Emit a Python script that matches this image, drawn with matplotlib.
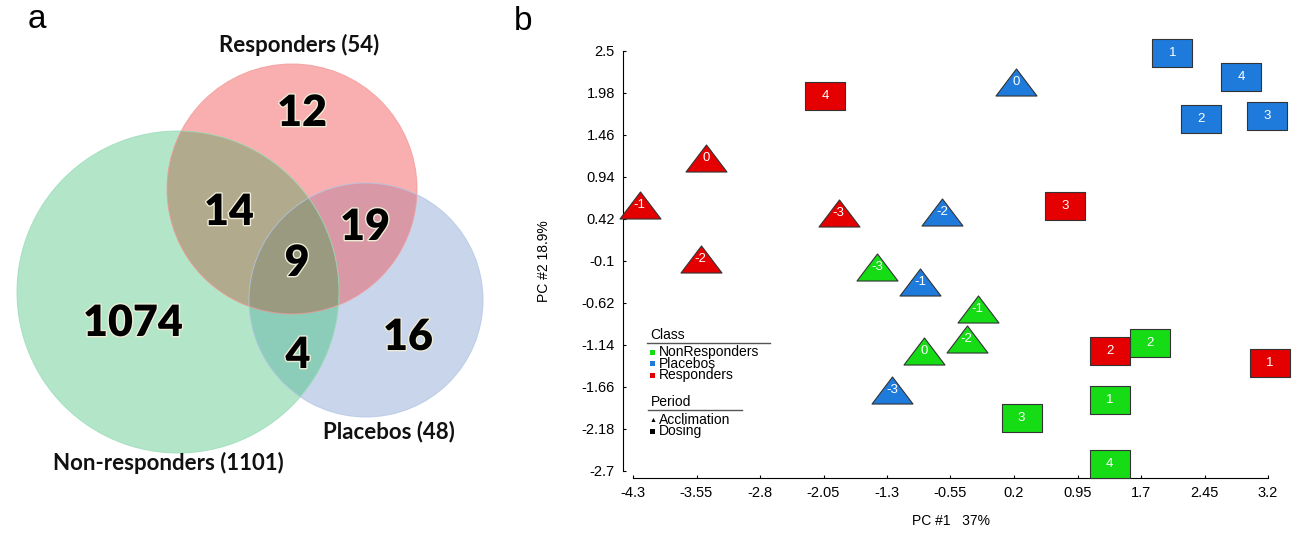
import matplotlib
matplotlib.use("Agg")
import matplotlib.pyplot as plt
import numpy as np
from matplotlib.patches import Circle, Polygon, Rectangle
from matplotlib.path import Path
import matplotlib.patheffects as pe

plt.rcParams['axes.unicode_minus'] = False
plt.rcParams['font.family'] = ['Liberation Sans', 'DejaVu Sans']

# --- panel a: Venn counts ---
set_names = ['Non-responders', 'Responders', 'Placebos']
set_sizes = [1101, 54, 48]
# regions: only N, only R, only P, N&R, R&P, N&P, all three
region_counts = [1074, 12, 16, 14, 19, 4, 9]

# --- panel b: PCA scores ---
acclim_weeks = [-3, -2, -1, 0]
dosing_weeks = [1, 2, 3, 4]

nonresp_acc_x = [-1.42, -0.36, -0.23, -0.86]
nonresp_acc_y = [-0.17, -1.07, -0.70, -1.21]
nonresp_dos_x = [1.33, 1.81, 0.29, 1.33]
nonresp_dos_y = [-1.82, -1.11, -2.05, -2.61]

placebo_acc_x = [-1.24, -0.65, -0.91, 0.22]
placebo_acc_y = [-1.70, 0.51, -0.36, 2.12]
placebo_dos_x = [2.07, 2.41, 3.19, 2.88]
placebo_dos_y = [2.48, 1.66, 1.70, 2.18]

resp_acc_x = [-1.87, -3.50, -4.22, -3.44]
resp_acc_y = [0.49, -0.08, 0.59, 1.18]
resp_dos_x = [3.22, 1.33, 0.80, -2.03]
resp_dos_y = [-1.36, -1.22, 0.58, 1.94]

x_ticks = [-4.3, -3.55, -2.8, -2.05, -1.3, -0.55, 0.2, 0.95, 1.7, 2.45, 3.2]
y_ticks = [2.5, 1.98, 1.46, 0.94, 0.42, -0.1, -0.62, -1.14, -1.66, -2.18, -2.7]

W, H = 1298, 539
fig = plt.figure(figsize=(W / 100, H / 100), dpi=100)


def circle_points(c, r, n=720):
    t = np.linspace(0, 2 * np.pi, n, endpoint=False)
    return np.column_stack([c[0] + r * np.cos(t), c[1] + r * np.sin(t)])


def convex_overlap(circles):
    # intersection of circles is convex: keep boundary points inside all others
    pts = []
    for i, (c, r) in enumerate(circles):
        p = circle_points(c, r)
        keep = np.ones(len(p), bool)
        for j, (c2, r2) in enumerate(circles):
            if j != i:
                keep &= np.hypot(p[:, 0] - c2[0], p[:, 1] - c2[1]) <= r2
        pts.append(p[keep])
    pts = np.vstack(pts)
    ctr = pts.mean(axis=0)
    ang = np.arctan2(pts[:, 1] - ctr[1], pts[:, 0] - ctr[0])
    return pts[np.argsort(ang)]


# ---------- panel a ----------
axa = fig.add_axes([0, 0, 500 / W, 1])
axa.set_xlim(0, 500)
axa.set_ylim(H, 0)
axa.axis('off')

circ = {
    'N': ((178, 292), 161),
    'R': ((292, 189), 125),
    'P': ((366, 300), 117),
}
fills = {'N': '#b3e6c8', 'R': '#f9afaf', 'P': '#c9d5ea'}
edges = {'N': '#9adcb8', 'R': '#f09a9a', 'P': '#b3c6e4'}
pair_fill = {('N', 'R'): '#b2aa8c', ('R', 'P'): '#d998a6', ('N', 'P'): '#8ccdb9'}

for k in ['N', 'R', 'P']:
    c, r = circ[k]
    axa.add_patch(Circle(c, r, facecolor=fills[k], edgecolor='none', zorder=1))
for (a, b), col in pair_fill.items():
    axa.add_patch(Polygon(convex_overlap([circ[a], circ[b]]), closed=True,
                          facecolor=col, edgecolor='none', zorder=2))
axa.add_patch(Polygon(convex_overlap([circ['N'], circ['R'], circ['P']]), closed=True,
                      facecolor='#9a9a80', edgecolor='none', zorder=3))
for k in ['N', 'R', 'P']:
    c, r = circ[k]
    axa.add_patch(Circle(c, r, facecolor='none', edgecolor=edges[k], lw=0.7,
                         alpha=0.8, zorder=4))

count_pos = [(133, 323), (302, 113), (408, 337), (229, 212), (365, 227), (298, 355), (297, 263)]
glow = [pe.withStroke(linewidth=2, foreground='#eeecd6')]
for (x, y), n in zip(count_pos, region_counts):
    axa.text(x, y, str(n), ha='center', va='center', fontsize=31, fontweight='heavy',
             family='Lato', color='black', zorder=5, path_effects=glow)

label_pos = [(168, 463), (299, 45), (389, 432)]
for (x, y), name, size in zip(label_pos, set_names, set_sizes):
    axa.text(x, y, f"{name} ({size})", ha='center', va='center', fontsize=16,
             fontweight='bold', family='Lato', color='#111111', zorder=5)

fig.text(37 / W, 1 - 20 / H, 'a', fontsize=24, ha='center', va='center')
fig.text(523 / W, 1 - 22 / H, 'b', fontsize=24, ha='center', va='center')

# ---------- panel b ----------
axb = fig.add_axes([633 / W, 1 - 471 / H, 635 / W, 420 / H])
axb.set_xlim(-4.3, 3.2)
axb.set_ylim(-2.7, 2.5)
for s in ['top', 'right']:
    axb.spines[s].set_visible(False)
axb.spines['left'].set_position(('outward', 7))
axb.spines['bottom'].set_position(('outward', 5))
axb.spines['left'].set_bounds(-2.7, 2.5)
axb.spines['bottom'].set_bounds(-4.3, 3.2)
axb.set_xticks(x_ticks)
axb.set_xticklabels([f"{v:g}" for v in x_ticks])
axb.set_yticks(y_ticks)
axb.set_yticklabels([f"{v:g}" for v in y_ticks])
axb.tick_params(direction='in', length=2, width=0.8, labelsize=10.5, pad=6)
axb.set_xlabel('PC #1   37%', fontsize=10, labelpad=10)
axb.set_ylabel('PC #2 18.9%', fontsize=10, labelpad=22)

rect_marker = Path([(-1, -0.66), (1, -0.66), (1, 0.66), (-1, 0.66), (-1, -0.66)],
                   [Path.MOVETO, Path.LINETO, Path.LINETO, Path.LINETO, Path.CLOSEPOLY])
tri_marker = Path([(-1, -0.66), (1, -0.66), (0, 0.66), (-1, -0.66)],
                  [Path.MOVETO, Path.LINETO, Path.LINETO, Path.CLOSEPOLY])

green, blue, red = '#16dc16', '#1f7bdb', '#e40000'
groups = [
    (nonresp_acc_x, nonresp_acc_y, acclim_weeks, tri_marker, green),
    (nonresp_dos_x, nonresp_dos_y, dosing_weeks, rect_marker, green),
    (placebo_acc_x, placebo_acc_y, acclim_weeks, tri_marker, blue),
    (placebo_dos_x, placebo_dos_y, dosing_weeks, rect_marker, blue),
    (resp_acc_x, resp_acc_y, acclim_weeks, tri_marker, red),
    (resp_dos_x, resp_dos_y, dosing_weeks, rect_marker, red),
]
for xs, ys, weeks, mk, col in groups:
    axb.scatter(xs, ys, marker=mk, s=29.5 ** 2, c=col, edgecolors='#333333',
                linewidths=0.8, clip_on=False, zorder=3)
    for x, y, w in zip(xs, ys, weeks):
        axb.text(x, y, str(w), ha='center', va='center', color='white',
                 fontsize=9.5, zorder=4)

# legend drawn by hand (class colours and period shapes)
def px(x, y):
    return x / W, 1 - y / H

fs_leg = 10
fig.text(*px(650, 335), 'Class', fontsize=fs_leg, va='center')
fig.add_artist(plt.Line2D([647 / W, 770 / W], [1 - 343 / H] * 2, color='#555555', lw=1))
for i, (name, col) in enumerate(zip(['NonResponders', 'Placebos', 'Responders'],
                                    [green, blue, red])):
    yy = 352 + 11.5 * i
    fig.add_artist(Rectangle(px(650, yy + 2.5), 5 / W, 5 / H, facecolor=col,
                             edgecolor='none', transform=fig.transFigure))
    fig.text(*px(659, yy), name, fontsize=fs_leg, va='center')

fig.text(*px(651, 402), 'Period', fontsize=fs_leg, va='center')
fig.add_artist(plt.Line2D([648 / W, 742 / W], [1 - 410 / H] * 2, color='#555555', lw=1))
fig.text(*px(650, 421), '\u25b2', fontsize=5, va='center')
fig.text(*px(659, 420), 'Acclimation', fontsize=fs_leg, va='center')
fig.add_artist(Rectangle(px(650, 434), 5 / W, 5 / H, facecolor='black',
                         edgecolor='none', transform=fig.transFigure))
fig.text(*px(659, 431.5), 'Dosing', fontsize=fs_leg, va='center')

fig.savefig('out.png', dpi=100)
